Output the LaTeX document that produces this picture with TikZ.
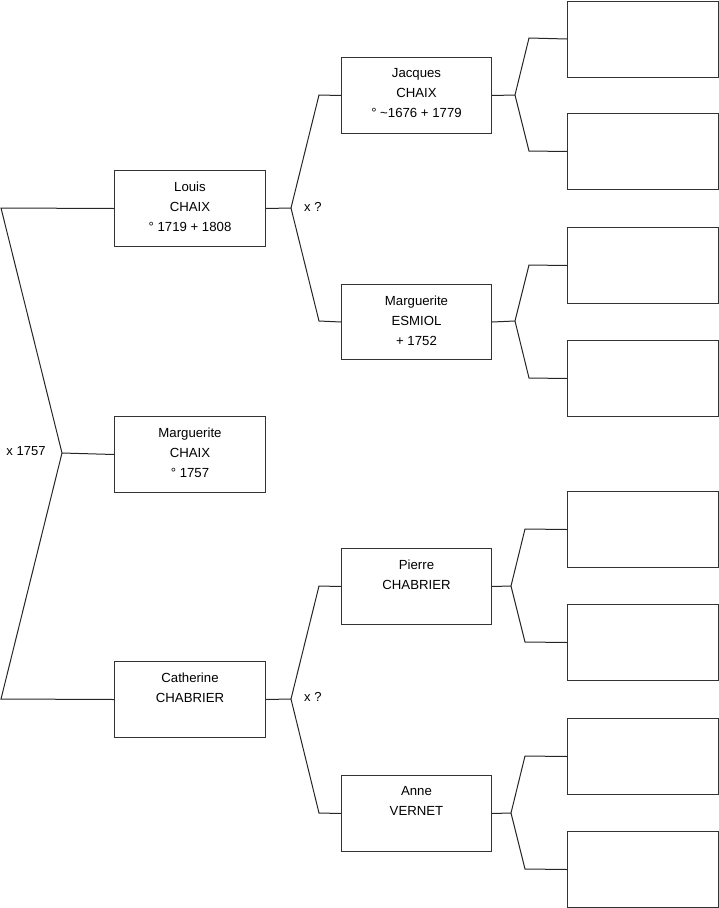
\documentclass[tikz,border=0pt]{standalone}
\usepackage{fontspec}
\setmainfont{Liberation Sans}
\begin{document}
\begin{tikzpicture}[x=1pt,y=-1pt,
  pbox/.style={draw=black!80, line width=1pt, minimum width=151pt, minimum height=76pt, inner sep=0pt, anchor=north west},
  ptext/.style={anchor=north, inner sep=0pt, align=center, font=\fontsize{13.2}{20}\selectfont},
  lbl/.style={inner sep=0pt, font=\fontsize{13}{15}\selectfont},
  conn/.style={draw=black!85, line width=1pt}]
\useasboundingbox (0,0) rectangle (719,908);
% boxes
\node[pbox] (louis) at (114,170) {};
\node[pbox] (mcha) at (114,416) {};
\node[pbox] (cath) at (114,661) {};
\node[pbox,minimum width=150pt] (jac) at (341,57) {};
\node[pbox,minimum width=150pt,minimum height=75pt] (esm) at (341,284) {};
\node[pbox,minimum width=150pt] (pie) at (341,548) {};
\node[pbox,minimum width=150pt] (anne) at (341,775) {};
\node[pbox] (e1) at (567,0.5) {};
\node[pbox] (e2) at (567,113) {};
\node[pbox] (e3) at (567,227) {};
\node[pbox] (e4) at (567,340) {};
\node[pbox] (e5) at (567,491) {};
\node[pbox] (e6) at (567,604) {};
\node[pbox] (e7) at (567,718) {};
\node[pbox] (e8) at (567,831) {};
% texts
\node[ptext] (louis-t) at ([yshift=-11.5pt]louis.north) {Louis\\CHAIX\\° 1719 + 1808};
\node[ptext] (mcha-t) at ([yshift=-11.5pt]mcha.north) {Marguerite\\CHAIX\\° 1757};
\node[ptext] (cath-t) at ([yshift=-11.5pt]cath.north) {Catherine\\CHABRIER};
\node[ptext] (jac-t) at ([yshift=-11.5pt]jac.north) {Jacques\\CHAIX\\° \textasciitilde1676 + 1779};
\node[ptext] (esm-t) at ([yshift=-11.5pt]esm.north) {Marguerite\\ESMIOL\\+ 1752};
\node[ptext] (pie-t) at ([yshift=-11.5pt]pie.north) {Pierre\\CHABRIER};
\node[ptext] (anne-t) at ([yshift=-11.5pt]anne.north) {Anne\\VERNET};
% labels
\node[lbl] (m0) at (26,451) {x 1757};
\node[lbl,anchor=west] (m1) at (304,207) {x ?};
\node[lbl,anchor=west] (m2) at (304,697) {x ?};
% fork coordinates
\coordinate (f0) at (62,453);
\coordinate (t0) at (1,208);
\coordinate (b0) at (1,699);
\coordinate (f1) at (291,208);
\coordinate (t1) at (319,95);
\coordinate (b1) at (319,321);
\coordinate (f2) at (291,699);
\coordinate (t2) at (319,586);
\coordinate (b2) at (319,813);
\coordinate (f3) at (515,95);
\coordinate (t3) at (529,38);
\coordinate (b3) at (529,151);
\coordinate (f4) at (515,321);
\coordinate (t4) at (529,265);
\coordinate (b4) at (529,378);
\coordinate (f5) at (511,586);
\coordinate (t5) at (525,529);
\coordinate (b5) at (525,642);
\coordinate (f6) at (511,813);
\coordinate (t6) at (525,756);
\coordinate (b6) at (525,869);
% connectors
\draw[conn] (mcha.west) -- (f0);
\draw[conn] (louis.west) -- (t0) -- (f0) -- (b0) -- (cath.west);
\draw[conn] (louis.east) -- (f1);
\draw[conn] (jac.west) -- (t1) -- (f1) -- (b1) -- (esm.west);
\draw[conn] (cath.east) -- (f2);
\draw[conn] (pie.west) -- (t2) -- (f2) -- (b2) -- (anne.west);
\draw[conn] (jac.east) -- (f3);
\draw[conn] (e1.west) -- (t3) -- (f3) -- (b3) -- (e2.west);
\draw[conn] (esm.east) -- (f4);
\draw[conn] (e3.west) -- (t4) -- (f4) -- (b4) -- (e4.west);
\draw[conn] (pie.east) -- (f5);
\draw[conn] (e5.west) -- (t5) -- (f5) -- (b5) -- (e6.west);
\draw[conn] (anne.east) -- (f6);
\draw[conn] (e7.west) -- (t6) -- (f6) -- (b6) -- (e8.west);
\end{tikzpicture}
\end{document}
